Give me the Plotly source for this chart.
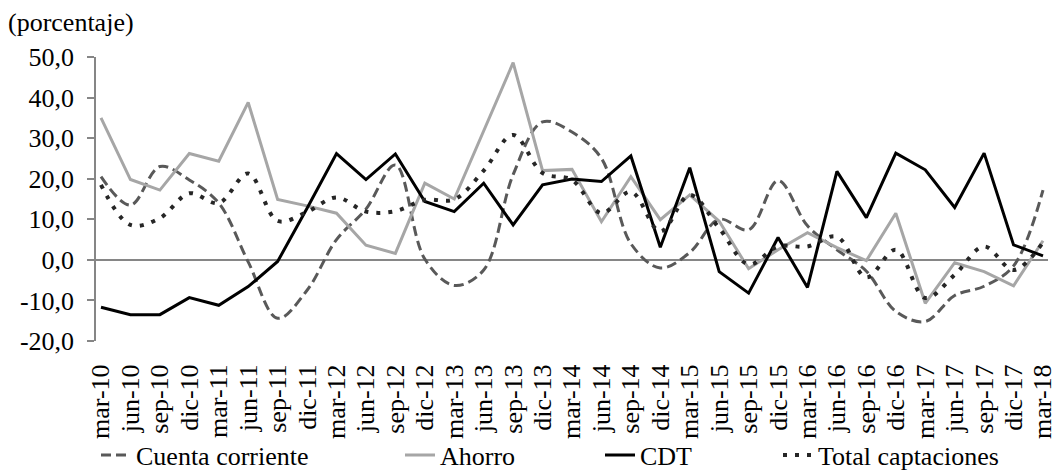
import plotly.graph_objects as go

categories = ["mar-10", "jun-10", "sep-10", "dic-10", "mar-11", "jun-11", "sep-11", "dic-11",
              "mar-12", "jun-12", "sep-12", "dic-12", "mar-13", "jun-13", "sep-13", "dic-13",
              "mar-14", "jun-14", "sep-14", "dic-14", "mar-15", "jun-15", "sep-15", "dic-15",
              "mar-16", "jun-16", "sep-16", "dic-16", "mar-17", "jun-17", "sep-17", "dic-17",
              "mar-18"]

cuenta_corriente = [20.5, 13.5, 23.0, 19.7, 14.0, -0.5, -14.4, -7.5,
                    5.0, 12.5, 23.4, 0.2, -6.3, -2.5, 21.0, 34.0,
                    31.5, 25.0, 4.0, -2.0, 1.8, 10.0, 7.4, 19.5,
                    8.4, 2.5, -2.8, -12.7, -15.2, -8.8, -6.5, -1.5,
                    17.2]

ahorro = [35.0, 19.8, 17.2, 26.2, 24.3, 38.8, 14.9, 13.3,
          11.5, 3.6, 1.6, 18.9, 15.0, 31.8, 48.6, 22.0,
          22.3, 9.4, 20.5, 9.9, 16.0, 9.5, -2.2, 2.5,
          6.7, 3.0, -0.2, 11.5, -10.7, -0.7, -2.9, -6.4,
          4.7]

cdt = [-11.7, -13.5, -13.5, -9.3, -11.2, -6.6, -0.4, 12.7,
       26.2, 19.8, 26.1, 14.4, 11.9, 18.9, 8.6, 18.5,
       19.9, 19.3, 25.6, 3.1, 22.7, -2.9, -8.2, 5.5,
       -6.8, 21.8, 10.4, 26.3, 22.2, 12.9, 26.3, 3.7,
       1.0]

total_captaciones = [18.5, 8.6, 10.3, 16.4, 14.0, 21.3, 9.6, 11.8,
                     15.4, 11.9, 12.0, 14.8, 14.9, 22.0, 30.8, 21.4,
                     19.7, 11.5, 16.8, 7.0, 16.0, 7.8, -1.1, 3.3,
                     3.3, 5.7, -4.3, 2.5, -9.4, -3.7, 3.3, -2.5,
                     4.3]

y_tickvals = [-20, -10, 0, 10, 20, 30, 40, 50]
y_ticktext = ["-20,0", "-10,0", "0,0", "10,0", "20,0", "30,0", "40,0", "50,0"]

FONT = "Liberation Serif, Times New Roman, serif"

fig = go.Figure()
fig.add_trace(go.Scatter(x=categories, y=cuenta_corriente, name="Cuenta corriente",
                         mode="lines", line=dict(color="#595959", width=3, dash="10px,5px",
                                                 shape="spline", smoothing=1.0),
                         legend="legend"))
fig.add_trace(go.Scatter(x=categories, y=ahorro, name="Ahorro", mode="lines",
                         line=dict(color="#a6a6a6", width=3), legend="legend2"))
fig.add_trace(go.Scatter(x=categories, y=cdt, name="CDT", mode="lines",
                         line=dict(color="#000000", width=3), legend="legend3"))
fig.add_trace(go.Scatter(x=categories, y=total_captaciones, name="Total captaciones",
                         mode="lines", line=dict(color="#262626", width=4, dash="4px,8px",
                                                 shape="spline", smoothing=1.0),
                         legend="legend4"))

leg_common = dict(orientation="h", xref="container", yref="container", yanchor="middle",
                  y=1 - 455 / 470, xanchor="left", font=dict(family=FONT, size=26, color="#000000"),
                  bgcolor="rgba(0,0,0,0)", borderwidth=0, itemwidth=30)

fig.update_layout(
    width=1060, height=470,
    margin=dict(l=96, r=12, t=57, b=129, autoexpand=False),
    paper_bgcolor="white", plot_bgcolor="white",
    font=dict(family=FONT, size=26, color="#000000"),
    showlegend=True,
    title=dict(text="(porcentaje)", xref="container", yref="container", x=8 / 1060,
               xanchor="left", y=1 - 22 / 470, yanchor="middle",
               font=dict(family=FONT, size=26, color="#000000")),
    xaxis=dict(type="category", range=[-0.17, 32.17], showgrid=False, zeroline=False,
               showline=False, tickmode="array", tickvals=categories, ticktext=categories,
               ticks="outside", ticklen=12, tickcolor="rgba(0,0,0,0)", automargin=False,
               tickangle=-90, tickfont=dict(family=FONT, size=26, color="#000000")),
    yaxis=dict(range=[-20, 50], tickvals=y_tickvals, ticktext=y_ticktext, showgrid=False,
               zeroline=True, zerolinecolor="#868686", zerolinewidth=1.5,
               showline=True, linecolor="#868686", linewidth=1.5, automargin=False,
               ticks="outside", ticklen=7, tickcolor="#868686", tickwidth=1.5,
               ticklabelstandoff=8,
               tickfont=dict(family=FONT, size=26, color="#000000")),
    legend=dict(leg_common, x=96 / 1060),
    legend2=dict(leg_common, x=400 / 1060),
    legend3=dict(leg_common, x=600 / 1060),
    legend4=dict(leg_common, x=778 / 1060),
)

fig.write_html("out.html")
